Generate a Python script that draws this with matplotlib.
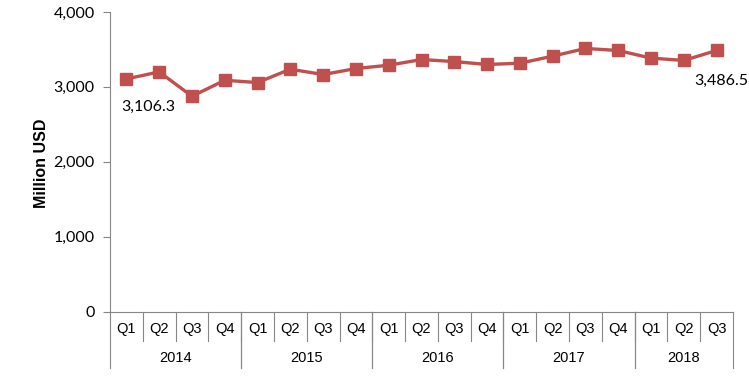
import matplotlib.pyplot as plt
from matplotlib.transforms import blended_transform_factory

# quarterly values, million USD
years = ["2014", "2015", "2016", "2017", "2018"]
quarters = ["Q1", "Q2", "Q3", "Q4", "Q1", "Q2", "Q3", "Q4", "Q1", "Q2",
            "Q3", "Q4", "Q1", "Q2", "Q3", "Q4", "Q1", "Q2", "Q3"]
quarters_per_year = [4, 4, 4, 4, 3]
values = [3106.3, 3200, 2875, 3088, 3058, 3236, 3165, 3245, 3289, 3365,
          3338, 3299, 3316, 3410, 3513, 3486, 3384, 3353, 3486.5]

line_color = "#C0504D"
axis_color = "#868686"

fig = plt.figure(figsize=(7.49, 3.76), dpi=100)
ax = fig.add_axes([110 / 749, 1 - 311.5 / 376, 623 / 749, 299.5 / 376])

x = list(range(len(values)))
ax.plot(x, values, color=line_color, lw=2.4, marker="s", ms=8.5,
        markeredgecolor=line_color)

ax.set_xlim(-0.5, len(values) - 0.5)
ax.set_ylim(0, 4000)
ax.set_yticks([0, 1000, 2000, 3000, 4000])
ax.set_yticklabels([f"{v:,}" for v in [0, 1000, 2000, 3000, 4000]],
                   fontfamily="Lato", fontsize=11.5)
ax.set_xticks([])
for s in ["top", "right"]:
    ax.spines[s].set_visible(False)
for s in ["left", "bottom"]:
    ax.spines[s].set_color(axis_color)
ax.tick_params(axis="y", length=5, color=axis_color, pad=6)

# axis title
fig.text(41 / 749, 1 - 163 / 376, "Million USD", rotation=90, ha="center",
         va="center", fontfamily="Liberation Sans", fontweight="bold",
         fontsize=11.5)

# data labels for first and last point
ax.annotate(f"{values[0]:,.1f}", (x[0], values[0]), xytext=(16, -20),
            textcoords="offset points", ha="center", va="center",
            fontfamily="Lato", fontsize=11.5)
ax.annotate(f"{values[-1]:,.1f}", (x[-1], values[-1]), xytext=(3, -22),
            textcoords="offset points", ha="center", va="center",
            fontfamily="Lato", fontsize=11.5)

# two-level category axis
trans = blended_transform_factory(ax.transData, ax.transAxes)
h = 299.5
q_bot = -29 / h
y_bot = -56 / h
for i, q in enumerate(quarters):
    ax.text(i, -17.5 / h, q, transform=trans, ha="center", va="center",
            fontfamily="Liberation Sans", fontsize=10.5)
    if i > 0:
        ax.plot([i - 0.5, i - 0.5], [0, q_bot], transform=trans,
                color=axis_color, lw=0.8, clip_on=False)
start = 0
for yr, n in zip(years, quarters_per_year):
    ax.text(start + n / 2 - 0.5, -46.5 / h, yr, transform=trans, ha="center",
            va="center", fontfamily="Liberation Sans", fontsize=10.5)
    for b in [start - 0.5, start + n - 0.5]:
        ax.plot([b, b], [0, y_bot], transform=trans, color=axis_color,
                lw=0.8, clip_on=False)
    start += n

fig.savefig("out.png", dpi=100)
